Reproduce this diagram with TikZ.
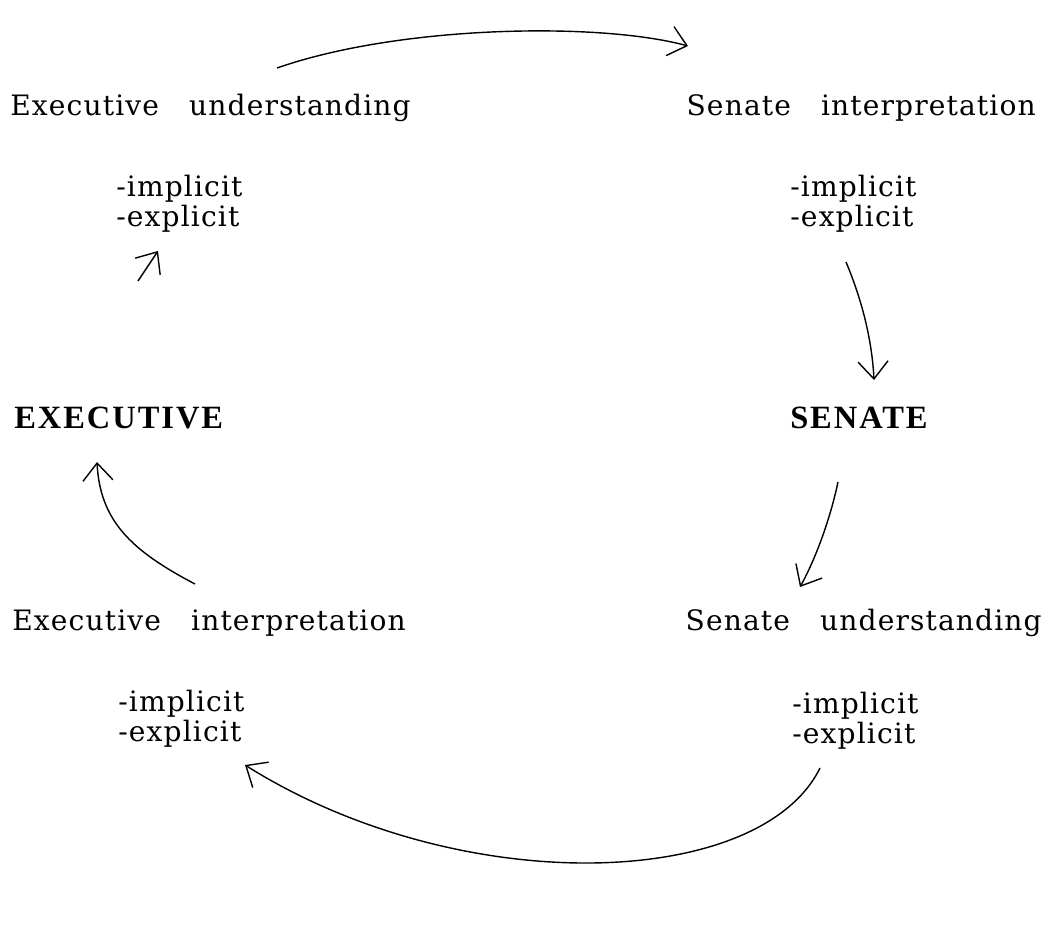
\documentclass[tikz,border=0pt]{standalone}
\usepackage{fontspec}
\setmainfont{DejaVu Serif}[LetterSpace=4,WordSpace=3]
\newfontfamily\headfont{Liberation Serif}[LetterSpace=6]
\usetikzlibrary{arrows.meta}

\tikzset{
    txt/.style={inner sep=0pt, anchor=base west, font=\fontsize{16}{19}\selectfont},
    head/.style={inner sep=0pt, anchor=base west, font=\headfont\bfseries\fontsize{18.5}{21}\selectfont},
    hand/.style={line width=0.8pt, -{Straight Barb[length=3.5mm,width=6mm]}}
}

\begin{document}
\begin{tikzpicture}[x=0.02cm, y=-0.02cm]
                \useasboundingbox (0,0) rectangle (1059,927);

                % executive understanding
                \node[txt] (eu) at (10,115) {Executive understanding};
                \node[txt] (eui) at (116,196) {-implicit};
                \node[txt] (eue) at (116,226) {-explicit};

                % senate interpretation
                \node[txt, anchor=base east] (si) at (1036,115) {Senate interpretation};
                \node[txt] (sii) at (790,196) {-implicit};
                \node[txt] (sie) at (790,226) {-explicit};

                % the two sides
                \node[head] (ex) at (14,428) {EXECUTIVE};
                \node[head, anchor=base east] (se) at (928,428) {SENATE};

                % executive interpretation
                \node[txt] (ei) at (12,630) {Executive interpretation};
                \node[txt] (eii) at (118,711) {-implicit};
                \node[txt] (eie) at (118,741) {-explicit};

                % senate understanding
                \node[txt, anchor=base east] (su) at (1042,630) {Senate understanding};
                \node[txt] (sui) at (792,713) {-implicit};
                \node[txt] (sue) at (792,743) {-explicit};

                % ends of the hand drawn arrows
                \coordinate (a1) at (277,68);
                \coordinate (a2) at (688,46);
                \coordinate (b1) at (846,262);
                \coordinate (b2) at (874,380);
                \coordinate (c1) at (838,482);
                \coordinate (c2) at (800,587);
                \coordinate (d1) at (820,768);
                \coordinate (d2) at (245,765);
                \coordinate (e1) at (195,584);
                \coordinate (e2) at (97,462);
                \coordinate (f1) at (138,281);
                \coordinate (f2) at (158,251);

                \draw[hand] (a1) .. controls (400,25) and (600,22) .. (a2);
                \draw[hand] (b1) .. controls (862,300) and (872,340) .. (b2);
                \draw[hand] (c1) .. controls (830,520) and (815,560) .. (c2);
                \draw[hand] (d1) .. controls (760,890) and (460,900) .. (d2);
                \draw[hand] (e1) .. controls (130,550) and (100,520) .. (e2);
                \draw[hand] (f1) -- (f2);
            \end{tikzpicture}
\end{document}
